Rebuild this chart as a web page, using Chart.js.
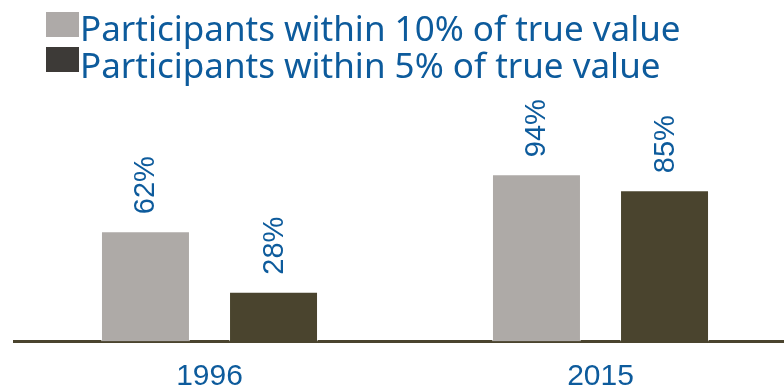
<!DOCTYPE html>
<html>
<head>
<meta charset="utf-8">
<script src="https://cdn.jsdelivr.net/npm/chart.js@4/dist/chart.umd.min.js"></script>
<style>
  html, body { margin: 0; padding: 0; background: #ffffff; overflow: hidden; width: 784px; height: 388px; }
  #wrap { position: absolute; left: 0; top: 0; width: 796px; height: 388px; }
</style>
</head>
<body>
<div id="wrap"><canvas id="c"></canvas></div>
<script>
const categories = ['1996', '2015'];
const seriesNames = ['Participants within 10% of true value', 'Participants within 5% of true value'];
const series10 = [62, 94];
const series5 = [28, 85];
const barColors = ['#aeaaa7', '#4a442e'];
const legendColors = ['#aeaaa8', '#3d3a37'];
const textBlue = '#0d5b9c';

const valueLabels = {
  id: 'valueLabels',
  afterDatasetsDraw(chart) {
    const ctx = chart.ctx;
    ctx.save();
    ctx.font = '29px "Liberation Sans", Arial, sans-serif';
    ctx.fillStyle = textBlue;
    ctx.textAlign = 'left';
    ctx.textBaseline = 'middle';
    chart.data.datasets.forEach((ds, di) => {
      const meta = chart.getDatasetMeta(di);
      meta.data.forEach((bar, i) => {
        ctx.save();
        ctx.translate(bar.x + 1, bar.y - 17);
        ctx.rotate(-Math.PI / 2);
        ctx.fillText(ds.data[i] + '%', 0, 0);
        ctx.restore();
      });
    });
    ctx.restore();
  }
};

const topLegend = {
  id: 'topLegend',
  afterDraw(chart) {
    const ctx = chart.ctx;
    ctx.save();
    ctx.font = '35px "Noto Sans", sans-serif';
    ctx.textAlign = 'left';
    ctx.textBaseline = 'alphabetic';
    const rows = [{boxY: 12, base: 41}, {boxY: 47, base: 78}];
    seriesNames.forEach((name, i) => {
      ctx.fillStyle = legendColors[i];
      ctx.fillRect(46, rows[i].boxY, 33, 25);
      ctx.fillStyle = textBlue;
      ctx.fillText(name, 80, rows[i].base);
    });
    ctx.restore();
  }
};

new Chart(document.getElementById('c'), {
  type: 'bar',
  data: {
    labels: categories,
    datasets: [
      { label: seriesNames[0], data: series10, backgroundColor: barColors[0], borderColor: 'rgba(255,255,255,0.55)', borderWidth: 1, categoryPercentage: 0.655, barPercentage: 0.695 },
      { label: seriesNames[1], data: series5, backgroundColor: barColors[1], borderColor: 'rgba(255,255,255,0.55)', borderWidth: 1, categoryPercentage: 0.655, barPercentage: 0.695 }
    ]
  },
  options: {
    responsive: true,
    maintainAspectRatio: false,
    animation: false,
    layout: { padding: { top: 163.5, left: 14, right: 0, bottom: 0 } },
    plugins: { legend: { display: false }, tooltip: { enabled: false } },
    scales: {
      x: {
        z: 1,
        grid: { display: false, drawTicks: false },
        border: { display: true, color: '#4a442e', width: 3 },
        ticks: { color: textBlue, font: { family: '"Liberation Sans", Arial, sans-serif', size: 30 }, padding: 17 },
        afterFit(scale) { scale.height = 46.5; }
      },
      y: { display: false, min: 0, max: 100 }
    }
  },
  plugins: [valueLabels, topLegend]
});
</script>
</body>
</html>
